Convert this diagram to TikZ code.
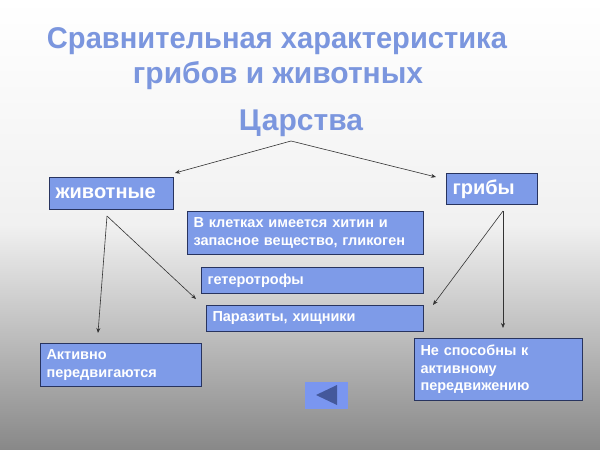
\documentclass[tikz,border=0pt]{standalone}
\usepackage{fontspec}
\setmainfont{Liberation Sans}
\newfontfamily\narrowtitle[FakeStretch=0.97]{Liberation Sans}
\usetikzlibrary{arrows.meta}
\definecolor{titleblue}{RGB}{123,150,222}
\definecolor{boxfill}{RGB}{126,155,232}
\definecolor{boxline}{RGB}{40,52,95}
\definecolor{btnfill}{RGB}{122,150,240}
\definecolor{btntri}{RGB}{68,88,155}
\definecolor{bgbottom}{RGB}{136,136,136}
\tikzset{
  titletext/.style={text=titleblue, font=\fontsize{30}{35}\selectfont\bfseries, inner sep=0pt},
  kbox/.style={draw=boxline, line width=1pt, fill=boxfill, text=white, anchor=north west,
    align=left, inner xsep=6pt, inner ysep=0pt, font=\fontsize{14.5}{17.5}\selectfont\bfseries},
  bigbox/.style={kbox, font=\fontsize{20}{24}\selectfont\bfseries},
  conn/.style={draw=black!80, line width=0.6pt, -{Stealth[length=5pt,width=4pt]}}
}
\begin{document}
\begin{tikzpicture}[x=1pt,y=-1pt]
\shade[top color=white, bottom color=bgbottom, middle color=white!88!bgbottom] (0,0) rectangle (600,450);
\useasboundingbox (0,0) rectangle (600,450);
% titles
\node[titletext, anchor=base, font=\narrowtitle\fontsize{30}{35}\selectfont\bfseries] (t1) at (277,48) {Сравнительная характеристика};
\node[titletext, anchor=base] (t2) at (278,83) {грибов и животных};
\node[titletext, anchor=base] (tc) at (301,130) {Царства};
% boxes
\node[bigbox, minimum width=124pt, minimum height=32pt, text width=112pt] (zh) at (49,177) {животные};
\node[bigbox, minimum width=91pt, minimum height=31pt, text width=79pt] (gr) at (446,173) {грибы};
\node[kbox, minimum width=236pt, minimum height=43pt, text width=224pt] (b1) at (187,211) {В клетках имеется хитин и\\запасное вещество, гликоген};
\node[kbox, minimum width=222pt, minimum height=26pt, text width=210pt] (b2) at (201,267) {гетеротрофы};
\node[kbox, minimum width=217pt, minimum height=26pt, text width=205pt] (b3) at (206,305) {Паразиты, хищники};
\node[kbox, minimum width=161pt, minimum height=43pt, text width=149pt] (b4) at (40,343) {Активно\\передвигаются};
\node[kbox, minimum width=168pt, minimum height=62pt, text width=156pt] (b5) at (414,338) {Не способны к\\активному\\передвижению};
% connectors
\coordinate (apex) at (291,141);
\coordinate (zhin) at (175,173);
\coordinate (grin) at (436,177);
\coordinate (zhout) at (107,216);
\coordinate (grout) at (503,211);
\coordinate (b4in) at (98,333);
\coordinate (b3in) at (196,299);
\coordinate (b3inr) at (433,305);
\coordinate (b5in) at (503,328);
\draw[conn] (apex) -- (zhin);
\draw[conn] (apex) -- (grin);
\draw[conn] (zhout) -- (b4in);
\draw[conn] (zhout) -- (b3in);
\draw[conn] (grout) -- (b3inr);
\draw[conn] (grout) -- (b5in);
% back button
\node[fill=btnfill, minimum width=43pt, minimum height=27pt, inner sep=0pt, anchor=north west] (btn) at (305,382) {};
\fill[btntri] (316,395) -- (337,385) -- (337,405) -- cycle;
\end{tikzpicture}
\end{document}
